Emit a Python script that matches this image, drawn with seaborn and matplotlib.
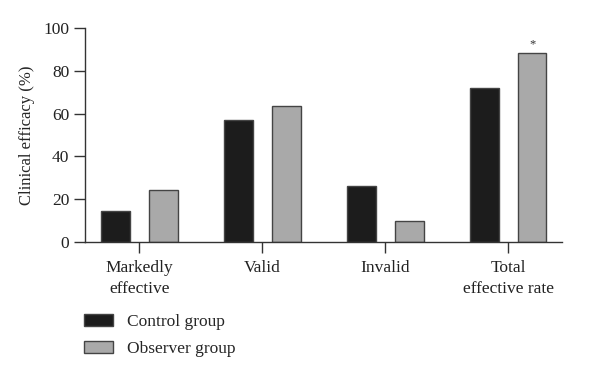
"""Clinical efficacy bar chart"""

import pandas as pd
import matplotlib
matplotlib.use('Agg')
import matplotlib.pyplot as plt
import seaborn as sns

CATEGORIES = ['Markedly\neffective', 'Valid', 'Invalid', 'Total\neffective rate']
GROUPS = ['Control group', 'Observer group']
CONTROL = [14.6, 56.9, 26.2, 72.1]
OBSERVER = [24.3, 63.6, 9.8, 88.5]
COLORS = ['#1c1c1c', '#a9a9a9']
AXIS_COLOR = '#333333'

FSIZE = 12.5
FONT = {'family': 'Liberation Serif', 'size': 12}

df = pd.DataFrame({
    'category': CATEGORIES * 2,
    'group': [GROUPS[0]] * 4 + [GROUPS[1]] * 4,
    'value': CONTROL + OBSERVER,
})

sns.set_style('ticks')
plt.rcParams['font.family'] = ['Liberation Serif', 'DejaVu Serif']

fig = plt.figure(figsize=(6, 3.77), dpi=100)
ax = fig.add_axes([0.142, 0.359, 0.795, 0.566])

sns.barplot(data=df, x='category', y='value', hue='group', palette=COLORS,
            width=0.78, gap=0.4, edgecolor='#444444', linewidth=1.0,
            legend=False, ax=ax)

ax.set_xlim(-0.44, 3.44)
ax.set_ylim(0, 100)
ax.set_yticks([0, 20, 40, 60, 80, 100])
ax.set_ylabel('Clinical efficacy (%)', fontdict=FONT, labelpad=6)
ax.set_xlabel('')
ax.tick_params(axis='both', labelsize=FSIZE, length=8, width=1.0, color=AXIS_COLOR,
               labelcolor='#222222', direction='out')
ax.tick_params(axis='x', pad=5)
for lbl in ax.get_xticklabels():
    lbl.set_linespacing(1.45)
for lbl in ax.get_xticklabels() + ax.get_yticklabels():
    lbl.set_family('Liberation Serif')

sns.despine(ax=ax)
for side in ['left', 'bottom']:
    ax.spines[side].set_color(AXIS_COLOR)
    ax.spines[side].set_linewidth(1.0)

# significance mark on total effective rate
ax.text(3 + 0.195, OBSERVER[3] + 1.0, '*', ha='center', va='bottom', fontsize=9,
        color='#333333')

handles = [plt.Rectangle((0, 0), 1, 1, facecolor=c, edgecolor='#444444', linewidth=1.0)
           for c in COLORS]
fig.legend(handles, GROUPS, loc='upper left', bbox_to_anchor=(84 / 600, 1 - 314 / 377),
           frameon=False, prop={'family': 'Liberation Serif', 'size': FSIZE},
           borderpad=0, borderaxespad=0,
           handlelength=1.65, handleheight=0.7, handletextpad=0.85, labelspacing=0.6)

plt.savefig('out.png', dpi=100)
plt.close()
